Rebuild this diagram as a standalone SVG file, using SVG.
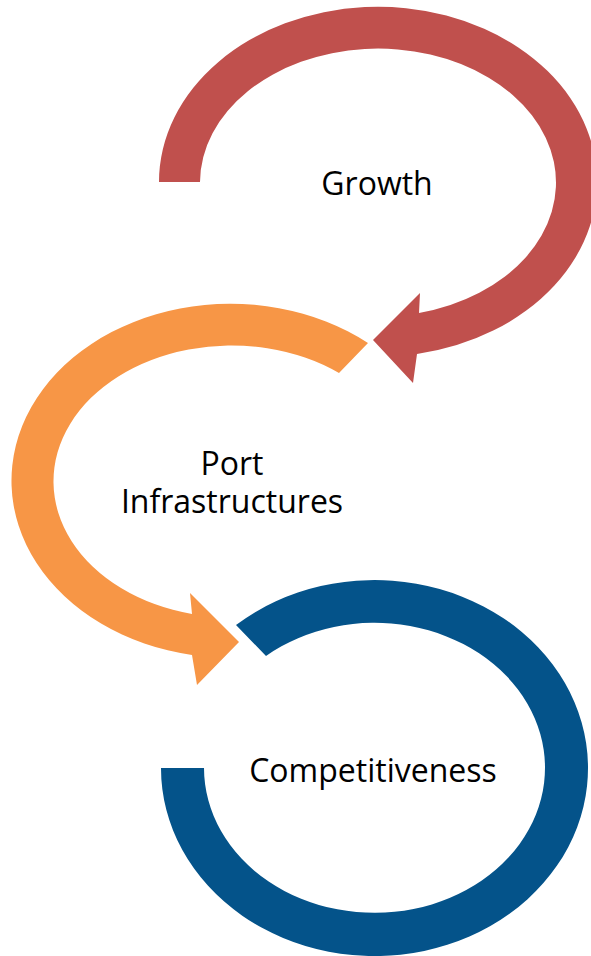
<svg xmlns="http://www.w3.org/2000/svg" width="591" height="956" viewBox="0 0 591 956">
<style>
.lbl{font-family:"Open Sans","Liberation Sans",sans-serif;font-size:32px;fill:#000;text-anchor:middle}
</style>
<rect width="591" height="956" fill="#fff"/>
<g id="growth">
<path fill="#C0504D" d="M159,182 A219,175 0 1 1 417,354 L413,383 L373,340 L420,293 L419,313 A178,134 0 1 0 200,182 Z"/>
<text class="lbl" x="377" y="195">Growth</text>
</g>
<g id="port">
<path fill="#F79646" d="M368,343 A219,177 0 1 0 192,655 L197,685 L239,642 L190,593 L192,614 A178,136 0 1 1 339,373 Z"/>
<text class="lbl" x="232" y="475">Port<tspan x="232" dy="38">Infrastructures</tspan></text>
</g>
<g id="competitiveness">
<path fill="#04538A" d="M236,625 A213.5,188 0 1 1 161,768 L204,768 A170.5,145 0 1 0 266,656 Z"/>
<text class="lbl" x="373" y="782">Competitiveness</text>
</g>
<g id="connectors"></g>
</svg>
